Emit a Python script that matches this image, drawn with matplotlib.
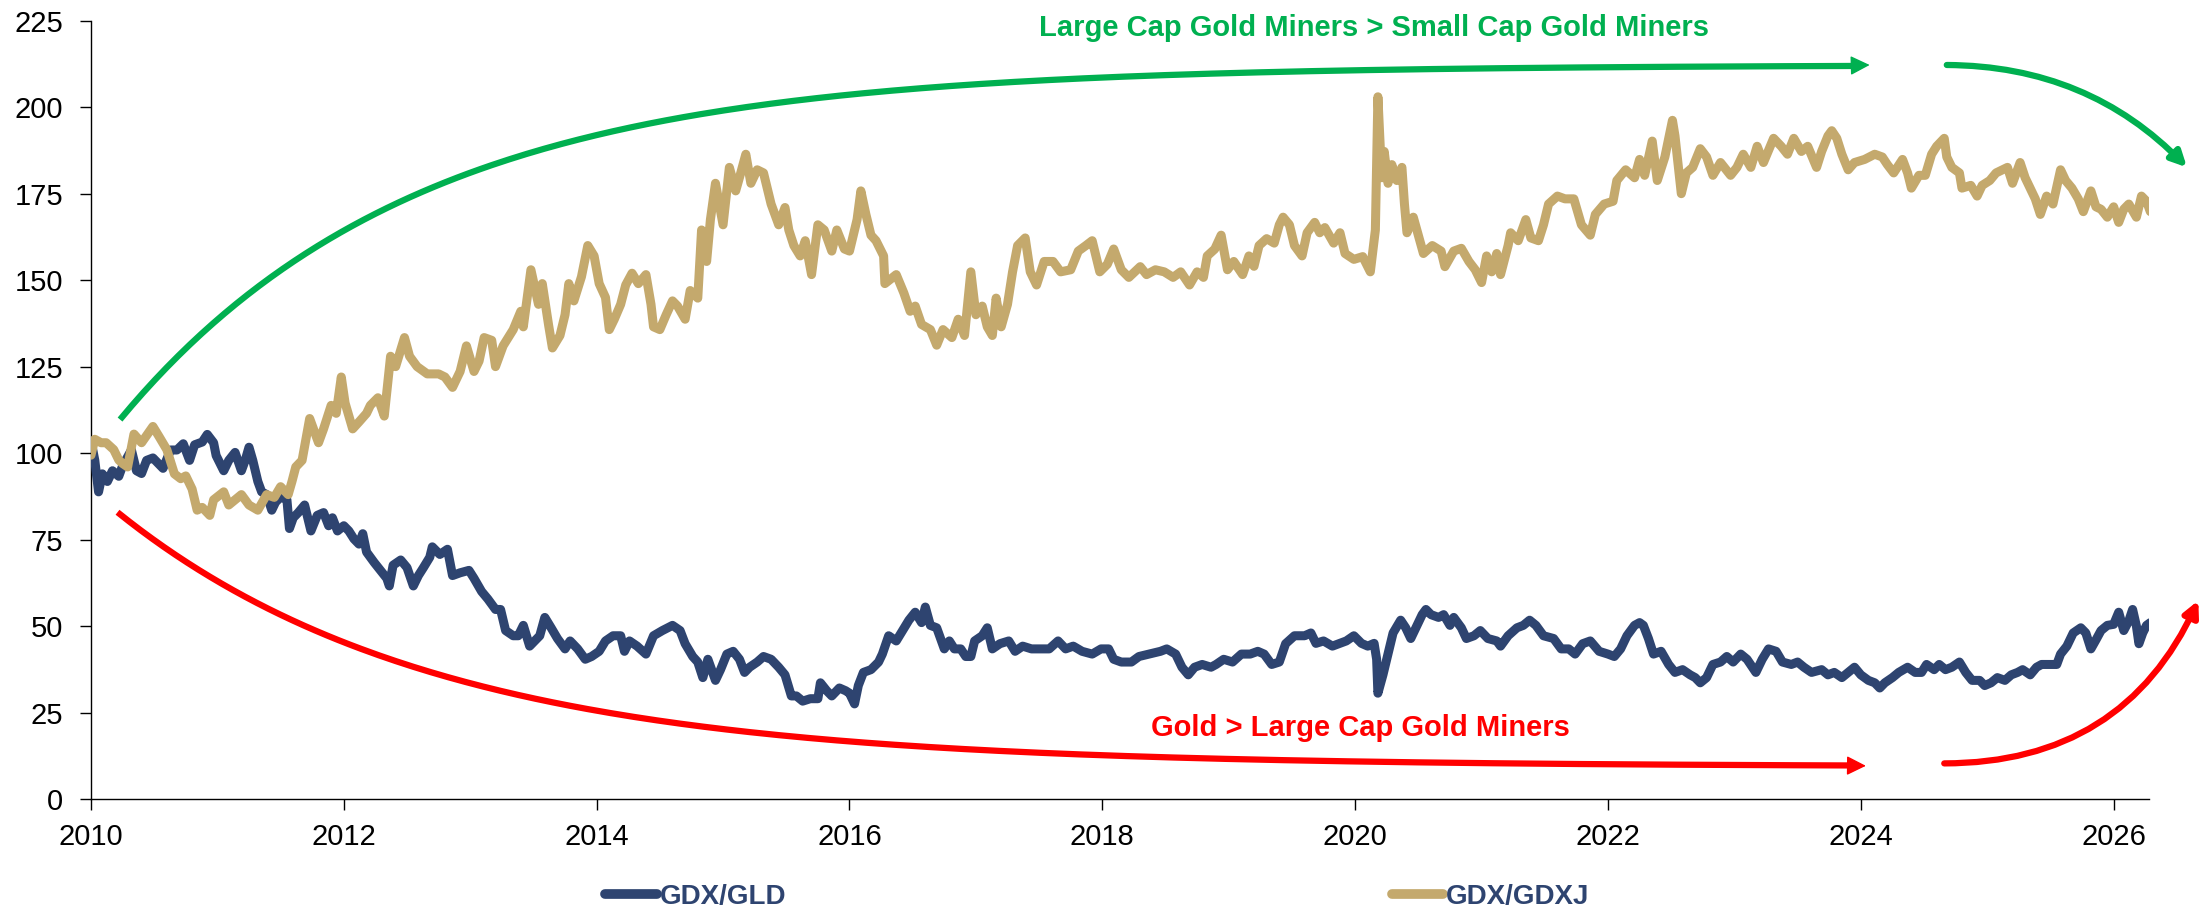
import numpy as np
import matplotlib
matplotlib.use("Agg")
import matplotlib.pyplot as plt

plt.rcParams['font.family'] = ['Liberation Sans', 'DejaVu Sans']

NAVY = '#2E4470'
TAN = '#C4A96D'
GREEN = '#00B050'
RED = '#FF0000'

# GDX/GLD, rebased to 100 (x = decimal year)
gld_years = [
    2010.00, 2010.03, 2010.06, 2010.09, 2010.13, 2010.17, 2010.22, 2010.25, 2010.32, 2010.36,
    2010.40, 2010.44, 2010.49, 2010.53, 2010.57, 2010.63, 2010.68, 2010.73, 2010.78, 2010.82,
    2010.88, 2010.92, 2010.97, 2010.99, 2011.05, 2011.09, 2011.14, 2011.19, 2011.22, 2011.25,
    2011.28, 2011.32, 2011.35, 2011.39, 2011.43, 2011.46, 2011.50, 2011.55, 2011.57, 2011.60,
    2011.64, 2011.69, 2011.71, 2011.74, 2011.79, 2011.84, 2011.88, 2011.91, 2011.95, 2012.00,
    2012.04, 2012.08, 2012.12, 2012.15, 2012.18, 2012.24, 2012.29, 2012.34, 2012.36, 2012.39,
    2012.45, 2012.50, 2012.55, 2012.59, 2012.63, 2012.68, 2012.70, 2012.76, 2012.82, 2012.86,
    2012.92, 2012.99, 2013.03, 2013.09, 2013.14, 2013.20, 2013.24, 2013.28, 2013.34, 2013.38,
    2013.42, 2013.47, 2013.51, 2013.55, 2013.59, 2013.64, 2013.69, 2013.75, 2013.79, 2013.85,
    2013.91, 2013.96, 2014.02, 2014.07, 2014.13, 2014.19, 2014.22, 2014.26, 2014.32, 2014.39,
    2014.45, 2014.52, 2014.60, 2014.66, 2014.70, 2014.76, 2014.80, 2014.84, 2014.88, 2014.94,
    2014.98, 2015.03, 2015.08, 2015.13, 2015.17, 2015.21, 2015.27, 2015.32, 2015.38, 2015.44,
    2015.49, 2015.54, 2015.58, 2015.63, 2015.69, 2015.75, 2015.77, 2015.82, 2015.86, 2015.92,
    2015.97, 2016.00, 2016.04, 2016.07, 2016.11, 2016.17, 2016.23, 2016.26, 2016.31, 2016.37,
    2016.42, 2016.47, 2016.52, 2016.57, 2016.60, 2016.64, 2016.69, 2016.75, 2016.79, 2016.83,
    2016.88, 2016.92, 2016.96, 2016.99, 2017.05, 2017.09, 2017.13, 2017.19, 2017.26, 2017.31,
    2017.37, 2017.44, 2017.51, 2017.58, 2017.65, 2017.71, 2017.77, 2017.84, 2017.92, 2017.99,
    2018.05, 2018.09, 2018.15, 2018.23, 2018.29, 2018.37, 2018.46, 2018.51, 2018.58, 2018.63,
    2018.68, 2018.73, 2018.79, 2018.86, 2018.90, 2018.96, 2019.03, 2019.10, 2019.17, 2019.23,
    2019.28, 2019.34, 2019.40, 2019.45, 2019.52, 2019.60, 2019.65, 2019.69, 2019.75, 2019.82,
    2019.88, 2019.93, 2019.99, 2020.05, 2020.10, 2020.15, 2020.17, 2020.18, 2020.22, 2020.26,
    2020.30, 2020.36, 2020.40, 2020.44, 2020.49, 2020.53, 2020.56, 2020.60, 2020.66, 2020.70,
    2020.75, 2020.78, 2020.84, 2020.88, 2020.94, 2020.99, 2021.05, 2021.12, 2021.15, 2021.21,
    2021.28, 2021.33, 2021.38, 2021.43, 2021.49, 2021.57, 2021.63, 2021.69, 2021.74, 2021.80,
    2021.86, 2021.93, 2022.00, 2022.05, 2022.10, 2022.15, 2022.21, 2022.25, 2022.28, 2022.32,
    2022.36, 2022.42, 2022.48, 2022.53, 2022.59, 2022.65, 2022.69, 2022.73, 2022.78, 2022.83,
    2022.89, 2022.94, 2022.99, 2023.05, 2023.10, 2023.17, 2023.22, 2023.27, 2023.33, 2023.38,
    2023.45, 2023.50, 2023.55, 2023.61, 2023.69, 2023.74, 2023.79, 2023.85, 2023.90, 2023.95,
    2024.00, 2024.06, 2024.11, 2024.15, 2024.19, 2024.25, 2024.30, 2024.37, 2024.43, 2024.48,
    2024.52, 2024.58, 2024.62, 2024.67, 2024.72, 2024.78, 2024.83, 2024.88, 2024.94, 2024.98,
    2025.03, 2025.08, 2025.14, 2025.19, 2025.24, 2025.28, 2025.34, 2025.39, 2025.43, 2025.50,
    2025.55, 2025.58, 2025.63, 2025.68, 2025.74, 2025.78, 2025.82, 2025.86, 2025.90, 2025.95,
    2026.00, 2026.04, 2026.08, 2026.12, 2026.15, 2026.18, 2026.20, 2026.23, 2026.26, 2026.29,
]
gld_vals = [
    103.6, 98.0, 88.8, 94.0, 91.8, 94.9, 93.3, 96.3, 100.9, 94.9,
    94.1, 97.9, 98.6, 97.1, 95.6, 100.9, 100.9, 102.7, 97.9, 102.4,
    103.2, 105.4, 103.0, 99.3, 94.9, 97.9, 100.2, 94.9, 97.9, 101.7,
    97.9, 91.8, 88.8, 88.0, 83.5, 85.8, 87.3, 86.5, 78.2, 81.3,
    82.8, 85.0, 82.0, 77.5, 82.0, 82.8, 79.0, 81.3, 77.5, 79.0,
    77.5, 75.2, 73.7, 76.7, 71.4, 68.4, 66.1, 63.8, 61.6, 67.6,
    69.1, 66.9, 61.6, 64.6, 66.9, 69.9, 72.9, 70.7, 72.2, 64.6,
    65.4, 66.1, 63.8, 60.0, 57.8, 54.8, 54.8, 48.7, 47.2, 47.2,
    50.2, 44.2, 45.7, 47.2, 52.5, 49.5, 46.4, 43.4, 45.7, 43.4,
    40.4, 41.2, 42.7, 45.7, 47.2, 47.2, 42.7, 45.7, 44.2, 41.9,
    47.2, 48.7, 50.2, 48.7, 44.9, 41.2, 39.6, 35.1, 40.4, 34.3,
    37.4, 41.9, 42.7, 40.4, 36.6, 38.1, 39.6, 41.2, 40.4, 38.1,
    35.9, 29.8, 29.8, 28.3, 29.0, 29.0, 33.6, 31.3, 29.8, 32.1,
    31.3, 30.6, 27.5, 32.8, 36.6, 37.4, 39.6, 41.9, 47.2, 45.7,
    48.7, 51.7, 54.0, 51.0, 55.5, 50.2, 49.5, 43.4, 45.7, 43.4,
    43.4, 41.2, 41.2, 45.7, 47.2, 49.5, 43.4, 44.9, 45.7, 42.7,
    44.2, 43.4, 43.4, 43.4, 45.7, 43.4, 44.2, 42.7, 41.9, 43.4,
    43.4, 40.4, 39.6, 39.6, 41.2, 41.9, 42.7, 43.4, 41.9, 38.1,
    35.9, 38.1, 38.9, 38.1, 38.9, 40.4, 39.6, 41.9, 41.9, 42.7,
    41.9, 38.9, 39.6, 44.9, 47.2, 47.2, 48.0, 45.0, 45.7, 44.2,
    45.0, 45.7, 47.2, 45.0, 44.2, 45.0, 40.4, 30.6, 35.9, 41.9,
    48.0, 51.7, 49.5, 46.4, 50.2, 53.3, 54.8, 53.3, 52.5, 53.3,
    50.2, 52.5, 49.5, 46.4, 47.2, 48.7, 46.4, 45.7, 44.2, 47.2,
    49.5, 50.2, 51.7, 50.2, 47.2, 46.4, 43.4, 43.4, 41.9, 44.9,
    45.7, 42.7, 41.9, 41.2, 43.4, 47.2, 50.2, 51.0, 50.2, 46.4,
    41.9, 42.7, 38.9, 36.6, 37.4, 35.9, 35.1, 33.6, 35.1, 38.9,
    39.6, 41.2, 39.6, 41.9, 40.4, 36.6, 40.4, 43.4, 42.7, 39.6,
    38.9, 39.6, 38.1, 36.6, 37.4, 35.9, 36.6, 35.1, 36.6, 38.1,
    35.9, 34.3, 33.6, 32.1, 33.6, 35.1, 36.6, 38.1, 36.6, 36.6,
    38.9, 37.4, 38.9, 37.4, 38.1, 39.6, 36.6, 34.3, 34.3, 32.8,
    33.6, 35.1, 34.3, 35.9, 36.6, 37.4, 35.9, 38.1, 38.9, 38.9,
    38.9, 41.9, 44.2, 48.0, 49.5, 48.0, 43.4, 46.0, 48.7, 50.2,
    50.5, 54.0, 48.7, 51.5, 54.8, 50.0, 44.9, 48.0, 50.2, 51.0,
]

# GDX/GDXJ, rebased to 100 (x = decimal year)
gdxj_years = [
    2010.00, 2010.03, 2010.08, 2010.12, 2010.18, 2010.22, 2010.25, 2010.29, 2010.34, 2010.40,
    2010.49, 2010.54, 2010.60, 2010.66, 2010.71, 2010.75, 2010.80, 2010.84, 2010.88, 2010.94,
    2010.97, 2011.05, 2011.09, 2011.19, 2011.25, 2011.32, 2011.39, 2011.45, 2011.50, 2011.56,
    2011.59, 2011.62, 2011.67, 2011.73, 2011.76, 2011.80, 2011.84, 2011.90, 2011.94, 2011.98,
    2012.01, 2012.07, 2012.12, 2012.18, 2012.21, 2012.27, 2012.32, 2012.37, 2012.41, 2012.48,
    2012.52, 2012.58, 2012.66, 2012.75, 2012.80, 2012.86, 2012.92, 2012.97, 2013.03, 2013.07,
    2013.11, 2013.17, 2013.20, 2013.26, 2013.34, 2013.40, 2013.42, 2013.48, 2013.54, 2013.57,
    2013.62, 2013.65, 2013.71, 2013.75, 2013.78, 2013.82, 2013.88, 2013.93, 2013.98, 2014.02,
    2014.07, 2014.10, 2014.14, 2014.19, 2014.23, 2014.28, 2014.33, 2014.39, 2014.43, 2014.45,
    2014.50, 2014.55, 2014.60, 2014.64, 2014.70, 2014.74, 2014.80, 2014.83, 2014.87, 2014.90,
    2014.94, 2015.00, 2015.05, 2015.10, 2015.14, 2015.18, 2015.22, 2015.27, 2015.32, 2015.38,
    2015.44, 2015.49, 2015.52, 2015.56, 2015.61, 2015.65, 2015.70, 2015.75, 2015.80, 2015.86,
    2015.90, 2015.96, 2016.00, 2016.06, 2016.09, 2016.13, 2016.17, 2016.21, 2016.27, 2016.28,
    2016.37, 2016.43, 2016.48, 2016.52, 2016.57, 2016.64, 2016.69, 2016.74, 2016.81, 2016.86,
    2016.91, 2016.96, 2017.00, 2017.05, 2017.09, 2017.13, 2017.16, 2017.20, 2017.25, 2017.29,
    2017.33, 2017.39, 2017.43, 2017.48, 2017.54, 2017.61, 2017.67, 2017.75, 2017.81, 2017.87,
    2017.92, 2017.98, 2018.04, 2018.09, 2018.15, 2018.21, 2018.30, 2018.35, 2018.42, 2018.49,
    2018.56, 2018.62, 2018.69, 2018.75, 2018.80, 2018.83, 2018.89, 2018.94, 2018.99, 2019.04,
    2019.11, 2019.16, 2019.20, 2019.24, 2019.30, 2019.36, 2019.40, 2019.43, 2019.48, 2019.52,
    2019.58, 2019.62, 2019.68, 2019.72, 2019.76, 2019.83, 2019.88, 2019.92, 2019.99, 2020.06,
    2020.12, 2020.16, 2020.18, 2020.21, 2020.23, 2020.26, 2020.29, 2020.33, 2020.37, 2020.39,
    2020.41, 2020.46, 2020.50, 2020.54, 2020.61, 2020.68, 2020.71, 2020.78, 2020.84, 2020.90,
    2020.95, 2021.00, 2021.04, 2021.08, 2021.12, 2021.15, 2021.21, 2021.23, 2021.29, 2021.35,
    2021.39, 2021.45, 2021.49, 2021.53, 2021.60, 2021.66, 2021.73, 2021.79, 2021.86, 2021.90,
    2021.97, 2022.04, 2022.07, 2022.14, 2022.21, 2022.25, 2022.29, 2022.35, 2022.39, 2022.45,
    2022.51, 2022.53, 2022.58, 2022.62, 2022.67, 2022.73, 2022.78, 2022.83, 2022.89, 2022.97,
    2023.02, 2023.07, 2023.13, 2023.18, 2023.23, 2023.31, 2023.37, 2023.42, 2023.47, 2023.53,
    2023.58, 2023.65, 2023.69, 2023.74, 2023.77, 2023.81, 2023.85, 2023.90, 2023.95, 2024.03,
    2024.11, 2024.17, 2024.21, 2024.26, 2024.33, 2024.37, 2024.40, 2024.46, 2024.51, 2024.56,
    2024.60, 2024.66, 2024.68, 2024.72, 2024.78, 2024.80, 2024.87, 2024.92, 2024.96, 2025.02,
    2025.07, 2025.12, 2025.16, 2025.20, 2025.26, 2025.30, 2025.35, 2025.38, 2025.42, 2025.47,
    2025.52, 2025.58, 2025.62, 2025.67, 2025.72, 2025.76, 2025.82, 2025.86, 2025.90, 2025.95,
    2026.00, 2026.04, 2026.08, 2026.12, 2026.18, 2026.22, 2026.26, 2026.29,
]
gdxj_vals = [
    99.4, 104.0, 103.0, 103.0, 101.0, 98.0, 97.0, 96.0, 105.5, 103.0,
    107.7, 104.7, 101.0, 94.0, 92.6, 93.4, 89.6, 83.5, 84.3, 82.0,
    86.5, 88.8, 85.0, 88.0, 85.0, 83.5, 88.0, 87.2, 90.3, 88.0,
    91.8, 96.0, 97.9, 110.0, 107.0, 103.0, 107.0, 113.8, 111.5, 122.0,
    114.5, 107.0, 109.0, 111.5, 113.8, 116.0, 110.7, 128.0, 125.0, 133.4,
    128.0, 125.0, 122.9, 122.9, 122.0, 119.0, 123.6, 131.0, 123.6, 126.6,
    133.4, 132.6, 125.0, 131.0, 135.7, 141.0, 136.5, 153.0, 143.0, 149.0,
    137.0, 130.4, 134.0, 140.0, 149.0, 144.0, 151.0, 160.0, 157.0, 149.0,
    145.0, 135.7, 138.7, 143.0, 148.6, 152.0, 149.0, 151.6, 143.0, 136.5,
    135.7, 140.0, 144.0, 142.5, 138.7, 147.0, 144.8, 164.5, 155.4, 167.5,
    178.0, 166.0, 182.6, 175.8, 181.0, 186.4, 178.0, 181.9, 181.0, 172.0,
    166.0, 171.0, 164.5, 160.0, 157.0, 161.4, 151.6, 166.0, 164.5, 158.4,
    164.5, 159.0, 158.4, 167.5, 175.8, 169.0, 163.0, 161.4, 157.0, 149.0,
    151.6, 146.3, 141.0, 142.5, 137.2, 135.7, 131.2, 135.7, 133.4, 138.7,
    134.0, 152.4, 140.0, 142.5, 136.5, 134.0, 144.8, 136.5, 143.0, 152.4,
    160.0, 162.2, 152.4, 148.6, 155.4, 155.4, 152.4, 153.0, 158.4, 160.0,
    161.4, 152.4, 154.6, 159.0, 153.0, 150.8, 153.9, 151.6, 153.0, 152.4,
    150.8, 152.4, 148.6, 152.4, 150.8, 157.0, 159.0, 163.0, 153.0, 155.4,
    151.6, 157.0, 154.0, 160.0, 162.0, 160.7, 166.0, 168.2, 166.0, 160.0,
    157.0, 163.7, 166.7, 163.7, 165.2, 160.7, 163.7, 157.7, 156.0, 156.8,
    152.4, 164.5, 203.0, 179.6, 187.2, 178.0, 183.4, 178.8, 182.6, 172.0,
    163.7, 168.2, 163.0, 157.7, 160.0, 158.4, 153.9, 158.4, 159.2, 155.4,
    153.0, 149.3, 157.0, 152.4, 157.7, 151.6, 160.0, 163.7, 161.4, 167.5,
    162.2, 161.4, 166.0, 172.0, 174.3, 173.5, 173.5, 166.0, 163.0, 169.0,
    172.0, 172.8, 178.8, 181.9, 179.6, 184.9, 180.3, 190.2, 178.8, 185.6,
    196.2, 191.7, 175.0, 181.0, 182.6, 188.0, 185.6, 180.3, 184.0, 180.3,
    182.6, 186.4, 182.6, 188.7, 184.0, 191.0, 188.7, 186.4, 191.0, 187.2,
    188.7, 182.6, 187.2, 191.7, 193.2, 191.0, 186.4, 181.9, 184.0, 184.9,
    186.4, 185.6, 183.4, 181.0, 184.9, 181.0, 176.6, 180.3, 180.3, 186.4,
    188.7, 191.0, 185.6, 182.6, 181.0, 176.6, 177.4, 174.3, 177.4, 178.8,
    181.0, 181.9, 182.6, 178.0, 184.0, 179.6, 175.8, 173.5, 169.0, 174.3,
    172.0, 181.9, 178.8, 176.6, 173.5, 169.8, 175.8, 171.2, 170.5, 168.2,
    171.2, 166.7, 170.5, 172.0, 168.2, 174.3, 172.8, 169.8,
]

x_ticks = list(range(2010, 2027, 2))
y_ticks = list(range(0, 226, 25))

fig = plt.figure(figsize=(22.08, 9.16), dpi=100)
ax = fig.add_axes([0.0412, 0.1277, 0.9321, 0.8497])

ax.plot(gld_years, gld_vals, color=NAVY, lw=6.5, solid_joinstyle='round',
        solid_capstyle='round', label='GDX/GLD', zorder=3)
ax.plot(gdxj_years, gdxj_vals, color=TAN, lw=6.5, solid_joinstyle='round',
        solid_capstyle='round', label='GDX/GDXJ', zorder=3)

ax.set_xlim(2010, 2026.28)
ax.set_ylim(0, 225)
ax.set_xticks(x_ticks)
ax.set_yticks(y_ticks)
ax.tick_params(axis='both', labelsize=21, length=8, width=1, direction='out', color='black')
ax.tick_params(axis='y', pad=12)
ax.tick_params(axis='x', pad=9)
for s in ['top', 'right']:
    ax.spines[s].set_visible(False)
for s in ['left', 'bottom']:
    ax.spines[s].set_linewidth(1)

# trend arrows (annotation)
head = dict(arrowstyle='-|>,head_length=0.8,head_width=0.4', lw=1,
            shrinkA=0, shrinkB=0, mutation_scale=15)

gx = np.linspace(2010.23, 2023.96, 300)
gy = 212.2 - 102.5 * np.exp(-0.43 * (gx - 2010.23))
ax.plot(gx, gy, color=GREEN, lw=4.5, solid_capstyle='butt', zorder=2)
ax.annotate('', xy=(2024.07, 212.2), xytext=(2023.8, gy[-1]),
            arrowprops=dict(color=GREEN, **head), annotation_clip=False)

rx = np.linspace(2010.21, 2023.93, 300)
ry = 9.4 + 73.5 * np.exp(-0.4 * (rx - 2010.21))
ax.plot(rx, ry, color=RED, lw=4.5, solid_capstyle='butt', zorder=2)
ax.annotate('', xy=(2024.04, 9.6), xytext=(2023.8, ry[-1]),
            arrowprops=dict(color=RED, **head), annotation_clip=False)

ax.annotate('', xy=(2026.58, 182.6), xytext=(2024.68, 212.2),
            arrowprops=dict(arrowstyle='-|>,head_length=0.6,head_width=0.3',
                            connectionstyle='arc3,rad=-0.21', color=GREEN, lw=4.5,
                            shrinkA=0, shrinkB=0, mutation_scale=15),
            annotation_clip=False)
ax.annotate('', xy=(2026.67, 57.4), xytext=(2024.66, 10.3),
            arrowprops=dict(arrowstyle='-|>,head_length=0.6,head_width=0.3',
                            connectionstyle='arc3,rad=0.32', color=RED, lw=4.5,
                            shrinkA=0, shrinkB=0, mutation_scale=15),
            annotation_clip=False)

ax.text(2020.15, 220.5, 'Large Cap Gold Miners > Small Cap Gold Miners', color=GREEN,
        fontsize=21, fontweight='bold', ha='center', va='baseline', clip_on=False)
ax.text(2020.04, 18.1, 'Gold > Large Cap Gold Miners', color=RED,
        fontsize=21, fontweight='bold', ha='center', va='baseline', clip_on=False)

leg = fig.legend(loc='center', bbox_to_anchor=(0.497, 0.021), ncol=2, frameon=False,
                 prop=dict(weight='bold', size=20), labelcolor=NAVY,
                 handlelength=1.85, handletextpad=0.1, columnspacing=21.8)
for line in leg.get_lines():
    line.set_linewidth(7)

fig.savefig('out.png', dpi=100)
